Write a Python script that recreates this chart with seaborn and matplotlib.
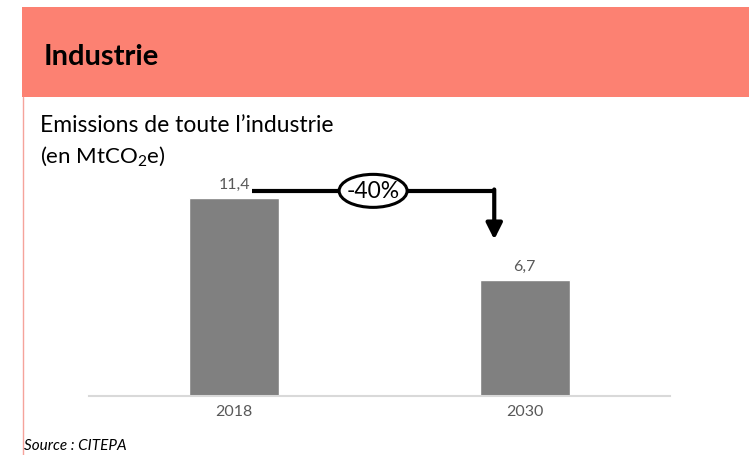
import matplotlib
matplotlib.use("Agg")
import matplotlib.pyplot as plt
from matplotlib.patches import Rectangle, Ellipse
from matplotlib.lines import Line2D
from matplotlib.transforms import ScaledTranslation
import seaborn as sns
import pandas as pd

# --- data ---
years = ["2018", "2030"]
emissions = [11.4, 6.7]
value_labels = ["11,4", "6,7"]
change_label = "-40%"

df = pd.DataFrame({"year": years, "emissions": emissions})

sns.set_theme(style="white")
plt.rcParams["font.family"] = ["Lato", "DejaVu Sans"]
plt.rcParams["mathtext.fontset"] = "custom"
plt.rcParams["mathtext.rm"] = "Lato"
plt.rcParams["text.color"] = "black"

W, H = 749, 456
fig = plt.figure(figsize=(W / 100, H / 100), dpi=100)

# --- header band + left border ---
fig.patches.append(Rectangle((22 / W, 1 - 98 / H), 1, 90 / H, transform=fig.transFigure,
                             facecolor="#FC8172", edgecolor="none", zorder=0))
fig.lines.append(Line2D([22.5 / W, 22.5 / W], [0, 1 - 98 / H], transform=fig.transFigure,
                        color="#F5A39B", lw=1))
fig.text(44 / W, 1 - 57 / H, "Industrie", fontsize=21, fontweight="bold", va="center", ha="left")
fig.text(40 / W, 1 - 126 / H, "Emissions de toute l\u2019industrie", fontsize=16.5, va="center", ha="left")
fig.text(40 / W, 1 - 157 / H, "(en MtCO$_2$e)", fontsize=16, va="center", ha="left")
fig.text(24 / W, 1 - 446 / H, "Source : CITEPA", fontsize=11, style="italic", va="center", ha="left")

# --- bars ---
ax = fig.add_axes([89 / W, 59 / H, 581 / W, 226 / H])
sns.barplot(data=df, x="year", y="emissions", order=years, color="#808080",
            width=0.31, saturation=1, ax=ax)
ax.set_xlim(-0.5, 1.5)
ax.set_ylim(0, 13)
for s in ["top", "right", "left"]:
    ax.spines[s].set_visible(False)
ax.spines["bottom"].set_color("#D9D9D9")
ax.spines["bottom"].set_linewidth(1.5)
ax.set_yticks([])
ax.set_xlabel("")
ax.set_ylabel("")
ax.tick_params(axis="x", length=0, labelsize=11.5, labelcolor="#595959", pad=6)
ax.patch.set_alpha(0)

for i, (v, lab) in enumerate(zip(emissions, value_labels)):
    ax.annotate(lab, (i, v), xytext=(0, 5), textcoords="offset points",
                ha="center", va="bottom", fontsize=11.5, color="#595959")

# --- -40% arrow ---
y_line = emissions[0] + 0.4
x0, x1 = 0.06, 0.895
ax.plot([x0, x1], [y_line, y_line], color="black", lw=3, solid_capstyle="butt", clip_on=False)
ax.annotate("", xy=(x1, emissions[1] + 2.3), xytext=(x1, y_line + 0.08),
            arrowprops=dict(arrowstyle="-|>", lw=3, color="black", mutation_scale=24,
                            shrinkA=0, shrinkB=0), annotation_clip=False)
x_mid = 0.478
ell_tr = fig.dpi_scale_trans + ScaledTranslation(x_mid, y_line, ax.transData)
ax.add_patch(Ellipse((0, 0), 0.68, 0.33, transform=ell_tr, fc="white", ec="black",
                     lw=2.2, zorder=5, clip_on=False))
ax.text(x_mid, y_line, change_label, ha="center", va="center", fontsize=16.5, zorder=6)

fig.savefig("out.png", dpi=100)
